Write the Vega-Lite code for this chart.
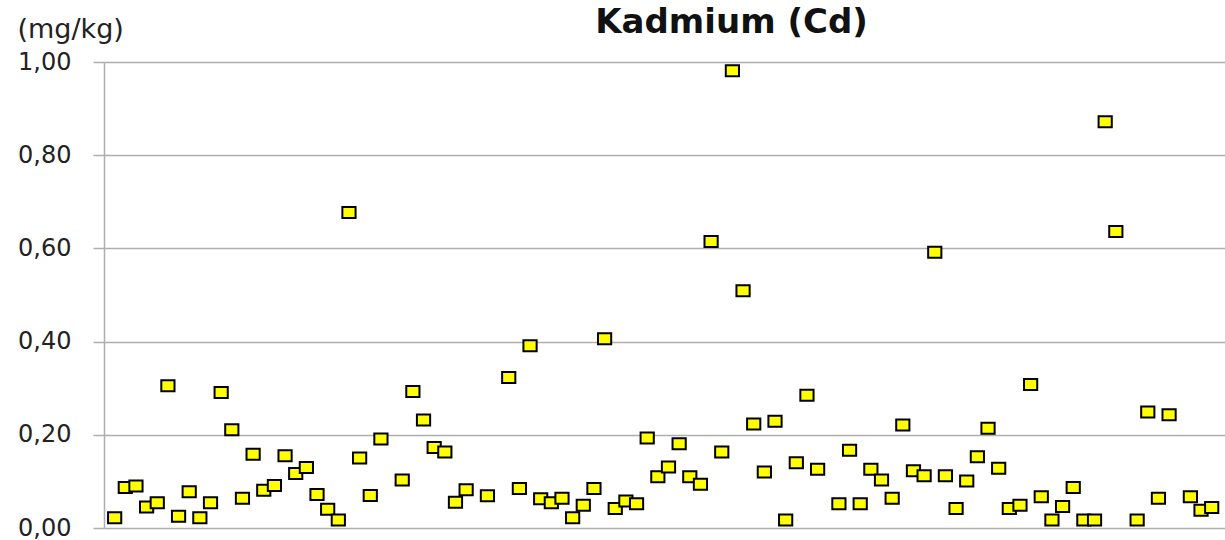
{
  "$schema": "https://vega.github.io/schema/vega-lite/v6.json",
  "width": 1121,
  "height": 466,
  "autosize": "none",
  "padding": {"left": 104, "top": 62, "right": 0, "bottom": 12},
  "background": "white",
  "config": {"view": {"stroke": null}, "font": "DejaVu Sans"},
  "data": {"values": [
    {"i":0,"v":0.022},{"i":1,"v":0.087},{"i":2,"v":0.090},{"i":3,"v":0.045},{"i":4,"v":0.054},
    {"i":5,"v":0.305},{"i":6,"v":0.025},{"i":7,"v":0.078},{"i":8,"v":0.022},{"i":9,"v":0.054},
    {"i":10,"v":0.291},{"i":11,"v":0.211},{"i":12,"v":0.064},{"i":13,"v":0.158},{"i":14,"v":0.081},
    {"i":15,"v":0.091},{"i":16,"v":0.155},{"i":17,"v":0.117},{"i":18,"v":0.130},{"i":19,"v":0.072},
    {"i":20,"v":0.040},{"i":21,"v":0.017},{"i":22,"v":0.677},{"i":23,"v":0.150},{"i":24,"v":0.070},
    {"i":25,"v":0.191},{"i":27,"v":0.103},{"i":28,"v":0.293},{"i":29,"v":0.232},{"i":30,"v":0.173},
    {"i":31,"v":0.163},{"i":32,"v":0.055},{"i":33,"v":0.082},{"i":35,"v":0.069},{"i":37,"v":0.323},
    {"i":38,"v":0.085},{"i":39,"v":0.391},{"i":40,"v":0.063},{"i":41,"v":0.054},{"i":42,"v":0.064},
    {"i":43,"v":0.022},{"i":44,"v":0.049},{"i":45,"v":0.085},{"i":46,"v":0.406},{"i":47,"v":0.042},
    {"i":48,"v":0.058},{"i":49,"v":0.052},{"i":50,"v":0.193},{"i":51,"v":0.110},{"i":52,"v":0.131},
    {"i":53,"v":0.181},{"i":54,"v":0.110},{"i":55,"v":0.094},{"i":56,"v":0.615},{"i":57,"v":0.163},
    {"i":58,"v":0.981},{"i":59,"v":0.509},{"i":60,"v":0.223},{"i":61,"v":0.120},{"i":62,"v":0.229},
    {"i":63,"v":0.017},{"i":64,"v":0.140},{"i":65,"v":0.285},{"i":66,"v":0.126},{"i":68,"v":0.052},
    {"i":69,"v":0.167},{"i":70,"v":0.052},{"i":71,"v":0.126},{"i":72,"v":0.103},{"i":73,"v":0.064},
    {"i":74,"v":0.221},{"i":75,"v":0.123},{"i":76,"v":0.112},{"i":77,"v":0.592},{"i":78,"v":0.112},
    {"i":79,"v":0.042},{"i":80,"v":0.101},{"i":81,"v":0.153},{"i":82,"v":0.214},{"i":83,"v":0.128},
    {"i":84,"v":0.042},{"i":85,"v":0.049},{"i":86,"v":0.308},{"i":87,"v":0.067},{"i":88,"v":0.017},
    {"i":89,"v":0.046},{"i":90,"v":0.087},{"i":91,"v":0.017},{"i":92,"v":0.017},{"i":93,"v":0.872},
    {"i":94,"v":0.636},{"i":96,"v":0.017},{"i":97,"v":0.249},{"i":98,"v":0.064},{"i":99,"v":0.243},
    {"i":101,"v":0.067},{"i":102,"v":0.038},{"i":103,"v":0.044}
  ]},
  "mark": {
    "type": "point",
    "shape": "M-1.2,-1H1.2V1H-1.2Z",
    "size": 121,
    "filled": true,
    "fill": "#FFFF00",
    "stroke": "#000000",
    "strokeWidth": 2,
    "opacity": 1
  },
  "encoding": {
    "x": {
      "field": "i",
      "type": "quantitative",
      "scale": {"domain": [-1, 104.25], "nice": false, "zero": false},
      "axis": {
        "orient": "top",
        "domain": false,
        "ticks": false,
        "labels": false,
        "grid": false,
        "title": "Kadmium (Cd)",
        "titleFont": "DejaVu Sans",
        "titleFontSize": 34,
        "titleFontWeight": "bold",
        "titleColor": "#111111",
        "titleAlign": "center",
        "titleBaseline": "alphabetic",
        "titleAnchor": null,
        "titleX": 627,
        "titleY": -30
      }
    },
    "y": {
      "field": "v",
      "type": "quantitative",
      "scale": {"domain": [0, 1], "nice": false},
      "axis": {
        "values": [0, 0.2, 0.4, 0.6, 0.8, 1],
        "labelExpr": "replace(format(datum.value, '.2f'), '.', ',')",
        "labelFont": "DejaVu Sans",
        "labelFontSize": 24,
        "labelColor": "#222222",
        "labelPadding": 22,
        "tickSize": 11,
        "tickColor": "#AEAEAE",
        "tickWidth": 1.5,
        "domainColor": "#AEAEAE",
        "domainWidth": 1.5,
        "grid": true,
        "gridColor": "#AEAEAE",
        "gridWidth": 1.5,
        "title": "(mg/kg)",
        "titleFont": "DejaVu Sans",
        "titleFontSize": 27,
        "titleFontWeight": "normal",
        "titleColor": "#222222",
        "titleAngle": 0,
        "titleAlign": "left",
        "titleBaseline": "alphabetic",
        "titleAnchor": null,
        "titleX": -87,
        "titleY": -25
      }
    }
  }
}
